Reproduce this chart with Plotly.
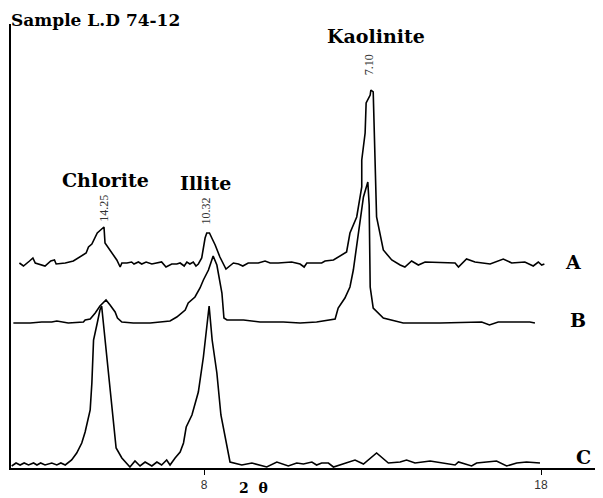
import plotly.graph_objects as go

# 2-theta positions and relative intensities (arbitrary units)
a_2theta = [2.52, 2.64, 2.82, 2.92, 2.99, 3.28, 3.45, 3.56, 3.61, 3.88, 4.12, 4.37, 4.50, 4.57, 4.67,
            4.83, 5.03, 5.06, 5.31, 5.41, 5.51, 5.56, 5.71, 5.85, 5.92, 6.05, 6.15, 6.28, 6.45, 6.60,
            6.74, 6.87, 7.04, 7.19, 7.29, 7.41, 7.49, 7.58, 7.68, 7.76, 7.83, 7.93, 7.98, 8.03, 8.08,
            8.16, 8.23, 8.33, 8.47, 8.65, 8.87, 9.02, 9.15, 9.31, 9.61, 9.81, 9.96, 10.20, 10.60, 10.85,
            10.97, 11.05, 11.49, 11.59, 11.84, 12.23, 12.33, 12.53, 12.68, 12.68, 12.78, 12.81, 12.93, 12.95,
            13.02, 13.12, 13.32, 13.57, 13.82, 13.96, 14.16, 14.36, 14.56, 15.45, 15.55, 15.79, 16.04, 16.49,
            16.88, 17.13, 17.52, 17.77, 17.92, 18.02, 18.10]
a_int = [205, 202, 207, 210, 205, 202, 207, 208, 204, 205, 207, 212, 215, 221, 224,
         235, 241, 225, 213, 208, 201, 205, 205, 206, 204, 206, 204, 206, 204, 205,
         206, 201, 204, 204, 205, 202, 206, 204, 206, 202, 204, 210, 221, 230, 235,
         235, 230, 223, 211, 199, 205, 204, 202, 205, 205, 207, 205, 205, 206, 204,
         201, 205, 205, 207, 208, 216, 235, 251, 281, 308, 335, 365, 373, 378,
         376, 251, 218, 208, 203, 201, 207, 203, 206, 205, 201, 209, 206, 204,
         209, 205, 206, 202, 206, 203, 204]

b_2theta = [2.34, 2.84, 3.18, 3.48, 3.63, 3.78, 3.97, 4.42, 4.47, 4.62, 4.77, 4.91, 5.09, 5.21, 5.36,
            5.43, 5.56, 5.90, 6.40, 6.99, 7.09, 7.19, 7.44, 7.53, 7.73, 7.88, 7.98, 8.13, 8.27, 8.38,
            8.53, 8.59, 8.68, 9.17, 9.66, 10.35, 10.85, 11.34, 11.89, 11.98, 12.18, 12.33, 12.43, 12.53,
            12.63, 12.73, 12.86, 12.90, 12.93, 13.02, 13.32, 13.91, 15.00, 16.24, 16.47, 16.73, 17.67, 17.82]
b_int = [145, 145, 146, 146, 147, 146, 145, 146, 148, 149, 155, 162, 168, 163, 156,
         150, 146, 145, 145, 147, 149, 151, 158, 165, 171, 180, 188, 198, 212, 203,
         175, 150, 148, 148, 146, 146, 145, 146, 149, 160, 170, 181, 198, 221,
         248, 271, 286, 263, 181, 160, 150, 145, 145, 146, 143, 146, 146, 145]

c_2theta = [2.29, 2.42, 2.54, 2.66, 2.79, 2.94, 3.04, 3.15, 3.28, 3.48, 3.63, 3.75, 3.88, 4.07, 4.22,
            4.37, 4.47, 4.62, 4.67, 4.72, 4.83, 4.91, 4.96, 5.01, 5.16, 5.26, 5.39, 5.56, 5.80, 5.95,
            6.10, 6.25, 6.45, 6.60, 6.74, 6.89, 6.99, 7.14, 7.29, 7.39, 7.47, 7.64, 7.83, 7.98, 8.08,
            8.15, 8.24, 8.38, 8.50, 8.77, 9.12, 9.42, 9.86, 10.16, 10.50, 10.75, 10.95, 11.20, 11.34,
            11.49, 11.69, 11.84, 12.48, 12.73, 13.12, 13.47, 13.82, 14.01, 14.26, 14.71, 15.45, 15.55,
            15.94, 16.09, 16.68, 16.98, 17.28, 17.57, 17.97]
c_int = [2, 5, 3, 5, 3, 5, 3, 5, 3, 5, 3, 5, 3, 8, 15,
         25, 36, 58, 85, 128, 145, 158, 162, 145, 101, 63, 20, 10, 1, 7,
         2, 6, 2, 6, 3, 8, 3, 10, 16, 25, 41, 53, 76, 111, 145,
         162, 128, 95, 53, 6, 3, 5, 1, 6, 2, 5, 4, 6, 3,
         5, 5, 1, 8, 4, 15, 5, 6, 8, 5, 7, 3, 6,
         2, 5, 7, 2, 5, 6, 5]

tick_vals = [8, 18]
tick_text = ["8", "18"]

mineral_labels = ["Chlorite", "Illite", "Kaolinite"]
mineral_pos = [(5.06, 288), (8.03, 285), (13.10, 432)]
d_labels = ["14.25", "10.32", "7.10"]
d_pos = [(5.02, 260), (8.07, 257), (12.90, 403)]
sample_labels = ["A", "B", "C"]
sample_pos = [(18.95, 206), (19.10, 148), (19.25, 11)]

serif = "DejaVu Serif"
thin_serif = "Liberation Serif"

fig = go.Figure()
for xs, ys, name in [(a_2theta, a_int, "A"), (b_2theta, b_int, "B"), (c_2theta, c_int, "C")]:
    fig.add_trace(go.Scatter(x=xs, y=ys, mode="lines", name=name,
                             line=dict(color="black", width=1.6), showlegend=False))

ann = []
for t, (x, y) in zip(mineral_labels, mineral_pos):
    ann.append(dict(x=x, y=y, xref="x", yref="y", text="<b>%s</b>" % t, showarrow=False,
                    font=dict(family=serif, size=19, color="black")))
for t, (x, y) in zip(d_labels, d_pos):
    ann.append(dict(x=x, y=y, xref="x", yref="y", text=t, showarrow=False, textangle=-90,
                    font=dict(family=thin_serif, size=12, color="#333")))
for t, (x, y) in zip(sample_labels, sample_pos):
    ann.append(dict(x=x, y=y, xref="x", yref="y", text="<b>%s</b>" % t, showarrow=False,
                    font=dict(family=serif, size=19, color="black")))
ann.append(dict(x=-0.004, y=1.036, xref="paper", yref="paper", xanchor="left", yanchor="top",
                text="<b>Sample L.D 74-12</b>", showarrow=False,
                font=dict(family=serif, size=17, color="black")))
ann.append(dict(x=0.41, y=-0.0665, xref="paper", yref="paper", xanchor="center", yanchor="bottom",
                text="<b>2&nbsp;&nbsp;θ</b>", showarrow=False,
                font=dict(family=serif, size=14, color="black")))
fig.update_layout(annotations=ann)

# the page body adds an 8px offset, so the figure is sized 8px smaller to fit the window
fig.update_layout(
    width=595, height=490,
    margin=dict(l=3, r=0, t=16, b=30),
    paper_bgcolor="white", plot_bgcolor="white",
    xaxis=dict(range=[2.27, 19.84], showgrid=False, zeroline=False, showline=True,
               linecolor="black", linewidth=1.5, tickvals=tick_vals, ticktext=tick_text,
               ticks="outside", ticklen=5, tickcolor="black", tickwidth=1,
               tickfont=dict(family="Liberation Sans", size=12, color="#333")),
    yaxis=dict(range=[0, 444], showgrid=False, zeroline=False, showline=True,
               linecolor="black", linewidth=1.5, showticklabels=False, ticks=""),
)

fig.write_html("out.html")
